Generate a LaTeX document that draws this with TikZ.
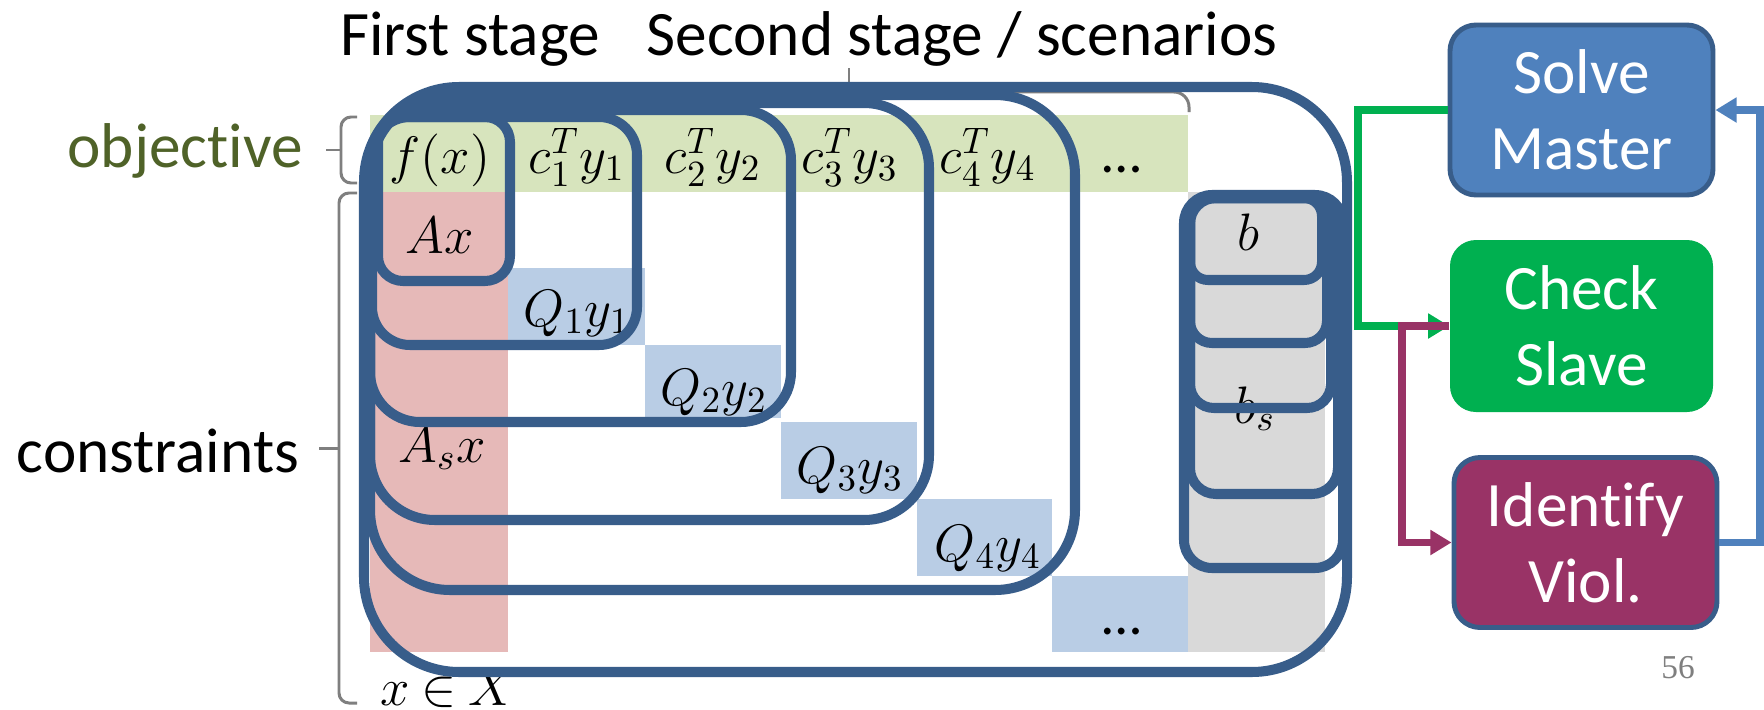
\RequirePackage{fix-cm}
\documentclass[tikz,border=0pt]{standalone}
\usepackage[no-math]{fontspec}
\setmainfont[Ligatures={NoCommon}]{Carlito}
\newfontfamily\pagefont{Liberation Serif}
\usetikzlibrary{arrows.meta}

\definecolor{frameblue}{HTML}{385D8A}
\definecolor{objfill}{HTML}{D7E4BD}
\definecolor{confill}{HTML}{E6B9B8}
\definecolor{blkfill}{HTML}{B9CDE5}
\definecolor{rhsfill}{HTML}{D9D9D9}
\definecolor{bracegrey}{HTML}{7F7F7F}
\definecolor{objtext}{HTML}{4F6228}
\definecolor{masterblue}{HTML}{4F81BD}
\definecolor{slavegreen}{HTML}{00B050}
\definecolor{violpurple}{HTML}{993366}

\tikzset{
  scenbox/.style={draw=frameblue, line width=2.85pt},
  bracket/.style={draw=bracegrey, line width=0.85pt, rounded corners=1mm},
  mathlbl/.style={anchor=base, inner sep=0pt, font=\fontsize{15}{18}\selectfont},
  headtxt/.style={anchor=base, inner sep=0pt, font=\fontsize{18}{21.6}\selectfont},
  procbox/.style={rounded corners=2.6mm, minimum width=26.3mm, minimum height=17mm,
    inner sep=0pt, align=center, text=white, font=\fontsize{18}{21.6}\selectfont},
  flow/.style={line width=2pt, -{Triangle[length=6pt,width=6.8pt]}},
}

\begin{document}
\begin{tikzpicture}[x=0.1mm, y=-0.1mm]
\clip (0,0) rectangle (1764,709);
\fill[white] (0,0) rectangle (1764,709);

% coloured blocks of the matrix
\fill[objfill] (370,115) rectangle (1188,192);
\fill[confill] (370,192) rectangle (508,652);
\fill[rhsfill] (1188,192) rectangle (1325,652);
\fill[blkfill] (508,268) rectangle (645,345);
\fill[blkfill] (645,345) rectangle (781,418);
\fill[blkfill] (781,422) rectangle (917,499);
\fill[blkfill] (917,499) rectangle (1052,576);
\fill[blkfill] (1052,576) rectangle (1188,652);

% headings and side labels
\node[headtxt] (hfirst) at (470,55) {First stage};
\node[headtxt] (hsecond) at (962,55) {Second stage / scenarios};
\node[headtxt, text=objtext] (lobj) at (185,167) {objective};
\node[headtxt] (lcons) at (158,472) {constraints};

% brackets
\draw[bracket] (357,117) -- (341,117) -- (341,183) -- (357,183);
\draw[bracket] (341,150) -- (326,150);
\draw[bracket] (357,193) -- (339,193) -- (339,703) -- (357,703);
\draw[bracket] (339,448) -- (319,448);
\draw[bracket, rounded corners=1.5mm] (508,112) -- (508,92) -- (1189,92) -- (1189,112);
\draw[bracket] (849,92) -- (849,68);

% entries
\node[mathlbl] (fx) at (440,173) {$f(x)$};
\node[mathlbl] (o1) at (577,173) {$c_1^T y_1$};
\node[mathlbl] (o2) at (713,173) {$c_2^T y_2$};
\node[mathlbl] (o3) at (850,173) {$c_3^T y_3$};
\node[mathlbl] (o4) at (988,173) {$c_4^T y_4$};
\node[mathlbl] (o5) at (1122,172) {\fontsize{16}{19}\selectfont …};
\node[mathlbl] (ax) at (440,253) {$Ax$};
\node[mathlbl] (q1) at (577,326) {$Q_1 y_1$};
\node[mathlbl] (q2) at (714,405) {$Q_2 y_2$};
\node[mathlbl] (q3) at (850,483) {$Q_3 y_3$};
\node[mathlbl] (q4) at (988,561) {$Q_4 y_4$};
\node[mathlbl] (q5) at (1122,634) {\fontsize{16}{19}\selectfont …};
\node[mathlbl] (asx) at (442,462) {$A_s x$};
\node[mathlbl] (bb) at (1248,250) {$b$};
\node[mathlbl] (bs) at (1255,423) {$b_s$};
\node[mathlbl] (xinx) at (448,705) {$x\mathbin{\in} X$};

% nested scenario subproblems
\draw[scenbox, rounded corners=9.5mm] (364,87) rectangle (1347,672);
\draw[scenbox, rounded corners=8mm] (370,95) rectangle (1075,590);
\draw[scenbox, rounded corners=6.5mm] (370,103) rectangle (929,520);
\draw[scenbox, rounded corners=5mm] (370,110) rectangle (791,422);
\draw[scenbox, rounded corners=3.8mm] (372,117) rectangle (637,345);
\draw[scenbox, rounded corners=2.5mm] (378,117) rectangle (510,281);

% nested right-hand sides
\draw[scenbox, rounded corners=2.8mm] (1184,195) rectangle (1343,568);
\draw[scenbox, rounded corners=2.6mm] (1190,198) rectangle (1338,494);
\draw[scenbox, rounded corners=2.4mm] (1190,198) rectangle (1331,408);
\draw[scenbox, rounded corners=2.2mm] (1190,198) rectangle (1327,343);
\draw[scenbox, rounded corners=1.8mm] (1190,198) rectangle (1322,280);

% algorithm loop
\node[procbox, fill=masterblue, draw=frameblue, line width=1.4pt] (solve) at (1581.5,110) {Solve\\Master};
\node[procbox, fill=slavegreen, minimum height=17.2mm] (check) at (1581.5,326) {Check\\Slave};
\node[procbox, fill=violpurple, draw=frameblue, line width=1.4pt] (ident) at (1585.5,542.5) {Identify\\Viol.};

\coordinate (gx) at (1358,0);
\coordinate (px) at (1402,0);
\coordinate (bx) at (1760,0);
\draw[flow, draw=slavegreen] (solve.west) -- (solve.west -| gx) |- (check.west);
\draw[flow, draw=violpurple] (check.west) -- (check.west -| px) |- (ident.west);
\draw[flow, draw=masterblue] (ident.east) -- (ident.east -| bx) |- (solve.east);

\node[anchor=base, inner sep=0pt, text=bracegrey, font=\pagefont\fontsize{9.5}{11}\selectfont] (pg) at (1678,678) {56};
\end{tikzpicture}
\end{document}
